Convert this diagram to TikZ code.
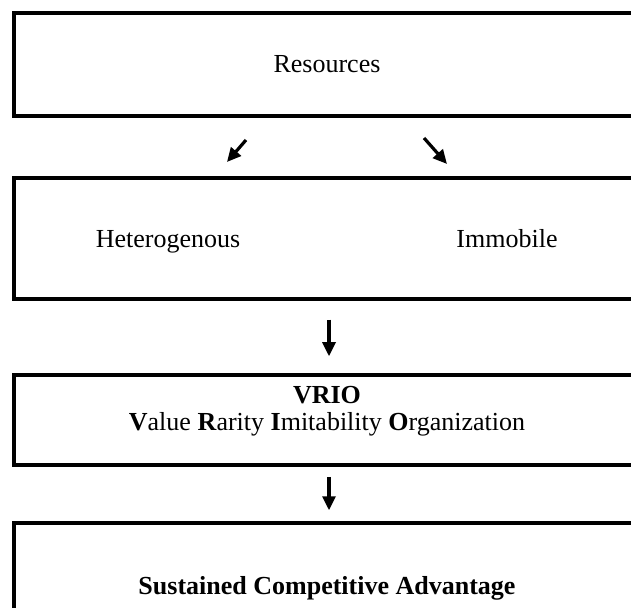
\documentclass[tikz,border=0pt]{standalone}
\usepackage{fontspec}
\setmainfont{Liberation Serif}
\usetikzlibrary{arrows.meta, positioning}
\tikzset{
  stage/.style={draw=black, line width=1.75pt, minimum width=313pt, inner sep=0pt},
  itemtext/.style={font=\fontsize{13}{13.5}\selectfont, inner sep=0pt, align=center},
  flow/.style={-{Triangle[length=7pt, width=6.5pt]}, line width=1.6pt},
}

\begin{document}
\begin{tikzpicture}[x=0.5pt, y=-0.5pt]
\useasboundingbox (0,0) rectangle (631,608);
\clip (0,0) rectangle (631,608);
% the four boxes
\node[stage, minimum height=51.5pt] (resbox) at (327,64.5) {};
\node[stage, minimum height=60.5pt] (hetbox) at (327,238.5) {};
\node[stage, minimum height=45pt] (vriobox) at (327,420) {};
\node[stage, minimum height=62pt] (scabox) at (327,585) {};
% texts
\node[itemtext, anchor=base] (res) at (327,73) {Resources};
\node[itemtext, anchor=base] (het) at (168,248) {Heterogenous};
\node[itemtext, anchor=base] (imm) at (507,248) {Immobile};
\node[itemtext] (vrio) at (327,411) {\textbf{VRIO}\\
  \textbf{V}alue \textbf{R}arity \textbf{I}mitability \textbf{O}rganization};
\node[itemtext, anchor=base, font=\fontsize{13}{13.5}\selectfont\bfseries] (sca) at (327,594)
  {Sustained Competitive Advantage};
% arrows
\coordinate (split-l) at (246,140);
\coordinate (split-l-end) at (227,162);
\coordinate (split-r) at (424,138);
\coordinate (split-r-end) at (447,164);
\draw[flow] (split-l) -- (split-l-end);
\draw[flow] (split-r) -- (split-r-end);
\draw[flow] ([xshift=1pt, yshift=-9.5pt]hetbox.south) -- ([xshift=1pt, yshift=8.5pt]vriobox.north);
\draw[flow] ([xshift=1pt, yshift=-5pt]vriobox.south) -- ([xshift=1pt, yshift=5.5pt]scabox.north);
\end{tikzpicture}
\end{document}
